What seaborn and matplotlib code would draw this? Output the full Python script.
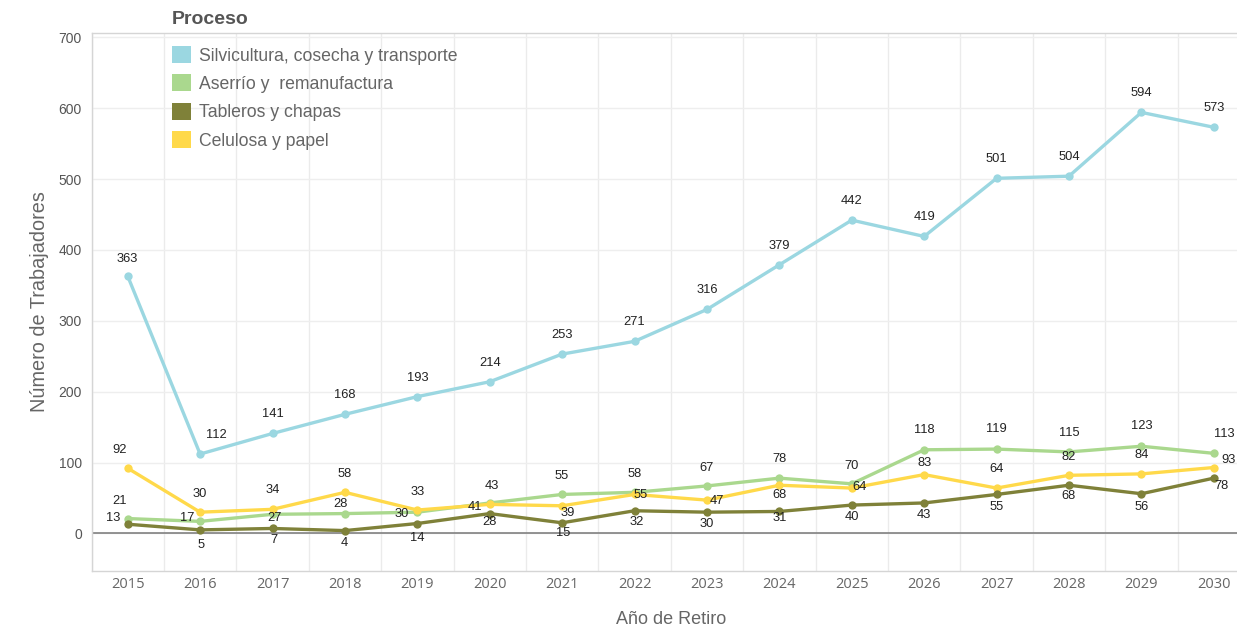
import numpy as np
import pandas as pd
import matplotlib
matplotlib.use("Agg")
import matplotlib.pyplot as plt
import seaborn as sns
from matplotlib.patches import Patch
from matplotlib.ticker import MultipleLocator, FixedLocator

# ---------------- data ----------------
years = list(range(2015, 2031))
series_names = ["Silvicultura, cosecha y transporte", "Aserrío y  remanufactura",
                "Tableros y chapas", "Celulosa y papel"]
silvicultura = [363, 112, 141, 168, 193, 214, 253, 271, 316, 379, 442, 419, 501, 504, 594, 573]
aserrio = [21, 17, 27, 28, 30, 43, 55, 58, 67, 78, 70, 118, 119, 115, 123, 113]
tableros = [13, 5, 7, 4, 14, 28, 15, 32, 30, 31, 40, 43, 55, 68, 56, 78]
celulosa = [92, 30, 34, 58, 33, 41, 39, 55, 47, 68, 64, 83, 64, 82, 84, 93]

colors = {series_names[0]: "#9BD7E1", series_names[1]: "#AAD88E",
          series_names[2]: "#7F8139", series_names[3]: "#FFD94A"}

# label offsets (pixels) -- styling only
off_silv = [(0, 17), (16, 19)] + [(0, 19)] * 14
off_aser = [(-8, 18), (-13, 3), (2, -4), (-4, 10), (-16, -2), (2, 17), (0, 18), (0, 18),
            (0, 18), (0, 19), (0, 18), (0, 20), (0, 20), (0, 19), (0, 20), (11, 19)]
off_tabl = [(-15, 6), (1, -15), (1, -12), (-1, -12), (0, -14), (0, -8), (1, -10), (2, -11),
            (0, -12), (0, -7), (0, -12), (0, -12), (0, -13), (0, -11), (0, -13), (8, -8)]
off_celu = [(-8, 18), (0, 18), (0, 19), (0, 18), (0, 18), (-15, -3), (6, -7), (6, -1),
            (10, -1), (0, -10), (8, 1), (0, 12), (0, 19), (0, 18), (0, 19), (15, 8)]

df = pd.concat([
    pd.DataFrame({"Año": years, "Trabajadores": vals, "Proceso": name})
    for name, vals in zip(series_names, [silvicultura, aserrio, tableros, celulosa])
], ignore_index=True)

# ---------------- figure ----------------
sns.set_theme(style="white")
plt.rcParams["font.family"] = ["Liberation Sans", "DejaVu Sans"]

fig = plt.figure(figsize=(12.37, 6.33), dpi=100)
W, H = 1237.0, 633.0
x0, x1 = 91.5, 1250.0
y0, y1 = 571.0, 33.0
ax = fig.add_axes([x0 / W, 1 - y0 / H, (x1 - x0) / W, (y0 - y1) / H])

order = [series_names[0], series_names[1], series_names[3], series_names[2]]
sns.lineplot(data=df, x="Año", y="Trabajadores", hue="Proceso", hue_order=order,
             palette=colors, marker="o", markersize=6, markeredgewidth=0,
             linewidth=2.4, legend=False, ax=ax)

ax.set_xlim(2014.5, 2030.5)
ax.set_ylim(-53, 706)

# grid
ax.xaxis.set_major_locator(FixedLocator(years))
ax.xaxis.set_minor_locator(FixedLocator([y + 0.5 for y in range(2014, 2031)]))
ax.yaxis.set_major_locator(MultipleLocator(100))
ax.grid(False)
ax.grid(which="minor", axis="x", color="#EBEBEB", linewidth=1)
ax.grid(which="major", axis="y", color="#EEEEEE", linewidth=1)
ax.set_axisbelow(True)
ax.axhline(0, color="#777777", linewidth=1.1, zorder=1)

for s in ["left", "bottom", "top"]:
    ax.spines[s].set_color("#D5D5D5")
    ax.spines[s].set_linewidth(1)
ax.spines["right"].set_visible(False)

ax.tick_params(axis="x", which="major", length=0, pad=4, labelsize=10.5, labelcolor="#666666")
ax.tick_params(axis="x", which="minor", length=5, color="#D5D5D5", direction="out")
ax.tick_params(axis="y", which="major", length=5, color="#D5D5D5", pad=2,
               labelsize=10, labelcolor="#555555")
for lbl in ax.get_xticklabels():
    lbl.set_fontfamily(["Open Sans", "DejaVu Sans"])

cond = ["Liberation Sans", "DejaVu Sans"]
ax.set_xlabel("Año de Retiro", fontsize=13, color="#666666", family=cond, labelpad=14)
ax.set_ylabel("Número de Trabajadores", fontsize=14.3, color="#666666", family=cond, labelpad=7)

# value labels
for name, vals, offs in zip(series_names, [silvicultura, aserrio, tableros, celulosa],
                            [off_silv, off_aser, off_tabl, off_celu]):
    for yr, v, (dx, dy) in zip(years, vals, offs):
        ax.annotate(str(v), (yr, v), xytext=(dx, dy), textcoords="offset pixels",
                    ha="center", va="center", fontsize=9.3, color="#222222", zorder=5)

# legend
handles = [Patch(facecolor=colors[n], edgecolor="none") for n in series_names]
leg = fig.legend(handles, series_names, loc="upper left",
                 bbox_to_anchor=(165 / W, 1 - 39 / H), frameon=False,
                 handlelength=1.1, handleheight=1.1, handletextpad=0.4,
                 labelspacing=0.56, borderaxespad=0,
                 prop={"family": cond, "size": 12.7})
for t in leg.get_texts():
    t.set_color("#666666")
fig.text(172 / W, 1 - 20 / H, "Proceso", family=cond, fontsize=14, fontweight="bold",
         color="#555555", ha="left", va="center")

fig.savefig("out.png", dpi=100)
